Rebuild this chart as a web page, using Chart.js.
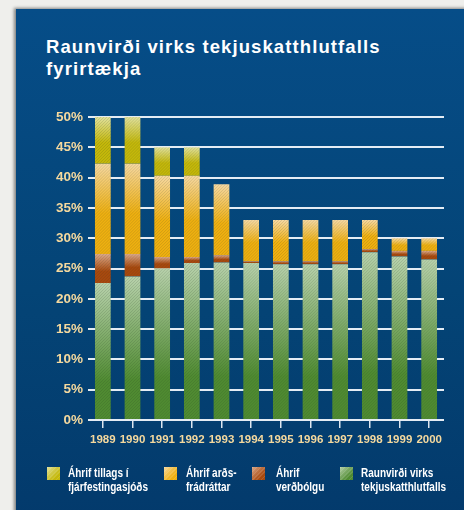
<!DOCTYPE html>
<html>
<head>
<meta charset="utf-8">
<script src="https://cdn.jsdelivr.net/npm/chart.js@4/dist/chart.umd.min.js"></script>
<style>
  html, body { margin: 0; padding: 0; }
  body { width: 464px; height: 510px; background: #efefec; position: relative; overflow: hidden; font-family: "Liberation Sans", Arial, sans-serif; }
  #panel { position: absolute; left: 16px; top: 9px; width: 460px; height: 510px;
    background: linear-gradient(180deg, #064d88 0%, #044476 55%, #033a6c 100%);
    box-shadow: -2px -1px 3px rgba(0,0,0,0.45); }
  #title { position: absolute; left: 46px; top: 36px; color: #fff; font-weight: bold; font-size: 18.5px; line-height: 22px; letter-spacing: 1.1px; }
  #wrap { position: absolute; left: 0; top: 0; width: 464px; height: 510px; }
  #legend { position: absolute; left: 0; top: 0; }
  .li { position: absolute; top: 466px; }
  .lb { position: absolute; left: 0; top: 1px; width: 13px; height: 13px; }
  .lt { position: absolute; top: 0; white-space: pre; color: #fff; font-family: "Liberation Sans", Arial, sans-serif; font-weight: bold; font-size: 12.5px; line-height: 14px; transform: scaleX(0.8); transform-origin: 0 0; }
</style>
</head>
<body>
<div id="panel"></div>
<div id="title">Raunvirði virks tekjuskatthlutfalls<br>fyrirtækja</div>
<div id="wrap"><canvas id="c" width="464" height="510"></canvas></div>
<div id="legend"></div>
<script>
// ---- data ----
const years = ["1989","1990","1991","1992","1993","1994","1995","1996","1997","1998","1999","2000"];
const raunvirdi = [22.6, 23.7, 25.0, 25.9, 26.0, 25.9, 25.7, 25.7, 25.7, 27.7, 27.0, 26.5];
const verdbolga = [4.8, 3.7, 1.9, 1.0, 1.2, 0.3, 0.5, 0.5, 0.5, 0.5, 0.9, 1.4];
const ardsfradrattur = [14.9, 14.9, 13.4, 13.4, 11.7, 6.8, 6.8, 6.8, 6.8, 4.8, 2.1, 2.1];
const tillag = [7.7, 7.7, 4.7, 4.7, 0, 0, 0, 0, 0, 0, 0, 0];
const seriesLabels = ["Raunvirði virks\ntekjuskatthlutfalls", "Áhrif\nverðbólgu", "Áhrif arðs-\nfrádráttar", "Áhrif tillags í\nfjárfestingasjóðs"];
const yTicks = [0, 5, 10, 15, 20, 25, 30, 35, 40, 45, 50];

// ---- styling ----
const darkCols = ["#4f8b31", "#a8490e", "#efb010", "#c4b80a"];
const lightCols = ["#b8d2ac", "#dba98a", "#f7d9a2", "#e2e29e"];
const solidStop = [0.72, 0.6, 0.55, 0.55];
const tickColor = "#f5d99e";

function segFill(ctx) {
  const chart = ctx.chart;
  const ds = ctx.datasetIndex, i = ctx.dataIndex;
  if (!chart.chartArea || !chart.scales.y || i === undefined) return darkCols[ds];
  let start = 0;
  for (let k = 0; k < ds; k++) start += chart.data.datasets[k].data[i];
  const end = start + chart.data.datasets[ds].data[i];
  const ys = chart.scales.y;
  const yTop = ys.getPixelForValue(end), yBot = ys.getPixelForValue(start);
  if (!(yBot - yTop > 0.5)) return darkCols[ds];
  const g = chart.ctx.createLinearGradient(0, yTop, 0, yBot);
  g.addColorStop(0, lightCols[ds]);
  g.addColorStop(solidStop[ds], darkCols[ds]);
  g.addColorStop(1, darkCols[ds]);
  return g;
}

const hatch = {
  id: 'hatch',
  afterDatasetsDraw(chart) {
    const c = chart.ctx;
    c.save();
    chart.data.datasets.forEach((d, di) => {
      const meta = chart.getDatasetMeta(di);
      meta.data.forEach(el => {
        const p = el.getProps(['x', 'y', 'base', 'width'], true);
        const left = p.x - p.width / 2, top = Math.min(p.y, p.base), h = Math.abs(p.base - p.y);
        if (h < 0.5) return;
        c.save();
        c.beginPath(); c.rect(left, top, p.width, h); c.clip();
        c.strokeStyle = 'rgba(40,60,40,0.14)';
        c.lineWidth = 1;
        c.beginPath();
        for (let k = -h; k < p.width + 2; k += 3) {
          c.moveTo(left + k, top + h);
          c.lineTo(left + k + h, top);
        }
        c.stroke();
        c.restore();
      });
    });
    c.restore();
  }
};

const datasets = [raunvirdi, verdbolga, ardsfradrattur, tillag].map((arr, k) => ({
  label: seriesLabels[k],
  data: arr,
  backgroundColor: segFill,
  borderWidth: 0,
  barPercentage: 0.53,
  categoryPercentage: 1.0,
  stack: 's'
}));

new Chart(document.getElementById('c'), {
  type: 'bar',
  data: { labels: years, datasets },
  options: {
    responsive: false,
    animation: false,
    devicePixelRatio: 1,
    layout: { padding: { top: 117, right: 20, left: 0, bottom: 0 } },
    plugins: { legend: { display: false }, title: { display: false }, tooltip: { enabled: false } },
    scales: {
      x: {
        stacked: true,
        afterFit: s => { s.height = 90; },
        border: { display: false },
        grid: { display: true, drawOnChartArea: false, drawTicks: true, tickLength: 8, offset: false, color: '#dde6ef', lineWidth: 1.5 },
        ticks: { color: tickColor, autoSkip: false, maxRotation: 0, padding: 5,
          font: { family: '"Liberation Sans", Arial', weight: 'bold', size: 11.5 } }
      },
      y: {
        stacked: true,
        min: 0, max: 50,
        afterFit: s => { s.width = 88; },
        afterBuildTicks: s => { s.ticks = yTicks.map(v => ({ value: v })); },
        border: { display: false },
        grid: { color: '#e4ecf4', lineWidth: 2, drawTicks: false },
        ticks: { color: tickColor, padding: 5, callback: v => v + '%',
          font: { family: '"Liberation Sans", Arial', weight: 'bold', size: 13.5 } }
      }
    }
  },
  plugins: [hatch]
});

// ---- HTML legend (reverse order: top of stack first) ----
const legendLefts = [47, 164, 252, 340];
const legendTextOffsets = [21, 22, 24, 21];
const legend = document.getElementById('legend');
[3, 2, 1, 0].forEach((ds, n) => {
  const item = document.createElement('div');
  item.className = 'li';
  item.style.left = legendLefts[n] + 'px';
  const box = document.createElement('div');
  box.className = 'lb';
  box.style.background = 'repeating-linear-gradient(135deg, rgba(255,255,255,0.12) 0 1px, rgba(0,0,0,0) 1px 3px), linear-gradient(135deg, ' + lightCols[ds] + ' 0%, ' + darkCols[ds] + ' 70%)';
  const txt = document.createElement('div');
  txt.className = 'lt';
  txt.style.left = legendTextOffsets[n] + 'px';
  txt.textContent = datasets[ds].label;
  item.appendChild(box); item.appendChild(txt);
  legend.appendChild(item);
});
</script>
</body>
</html>
